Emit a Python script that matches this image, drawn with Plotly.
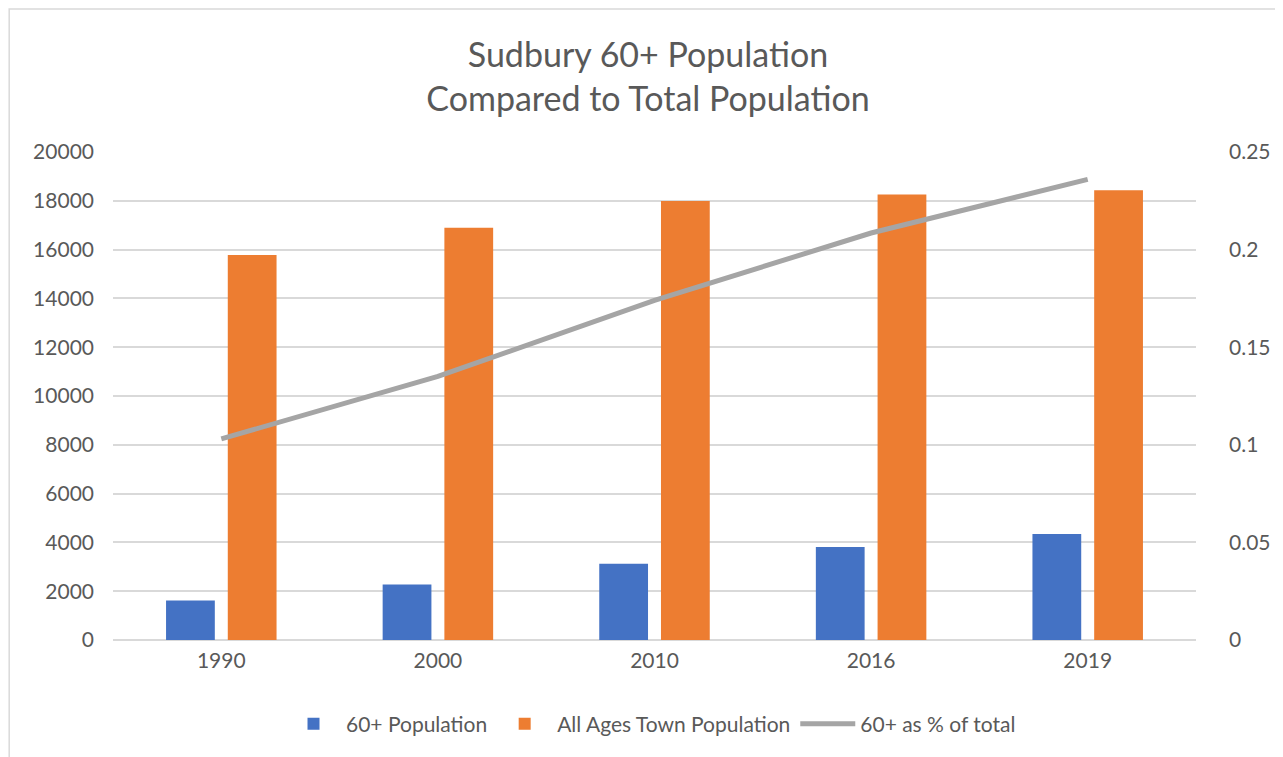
import plotly.graph_objects as go

years = ["1990", "2000", "2010", "2016", "2019"]
pop60 = [1620, 2270, 3130, 3810, 4340]
pop_all = [15780, 16900, 17990, 18260, 18430]
pct60 = [0.103, 0.135, 0.174, 0.2085, 0.236]

left_ticks = [0, 2000, 4000, 6000, 8000, 10000, 12000, 14000, 16000, 18000, 20000]
left_labels = [str(v) for v in left_ticks]
right_ticks = [0, 0.05, 0.1, 0.15, 0.2, 0.25]
right_labels = ["0", "0.05", "0.1", "0.15", "0.2", "0.25"]

FONT = "Lato, 'Open Sans', sans-serif"
GREY = "#595959"
FS = 21

# page body has an 8px default margin; compensate
W, H = 1275, 749
L, R, T, B = 105, 85, 144, 117
PW, PH = W - L - R, H - T - B

fig = go.Figure()
fig.add_trace(go.Bar(x=years, y=pop60, name="60+ Population",
                     marker=dict(color="#4472C4", line=dict(width=0))))
fig.add_trace(go.Bar(x=years, y=pop_all, name="All Ages Town Population",
                     marker=dict(color="#ED7D31", line=dict(width=0))))
fig.add_trace(go.Scatter(x=years, y=pct60, name="60+ as % of total", mode="lines",
                         line=dict(color="#A5A5A5", width=5), yaxis="y2"))

fig.update_layout(
    width=W, height=H,
    paper_bgcolor="white", plot_bgcolor="white",
    margin=dict(l=L, r=R, t=T, b=B),
    title=dict(text="Sudbury 60+ Population<br>Compared to Total Population",
               x=(648 - 8) / W, xanchor="center", y=1 - (67 - 8) / H, yanchor="middle",
               font=dict(family=FONT, size=34, color=GREY)),
    font=dict(family=FONT, size=FS, color=GREY),
    barmode="group", bargap=0.43, bargroupgap=0.21,
    xaxis=dict(showgrid=False, showline=False, ticks="", tickfont=dict(size=FS, color=GREY),
               ticklabelstandoff=6),
    yaxis=dict(range=[0, 20000], tickvals=left_ticks, ticktext=left_labels, showgrid=True,
               gridcolor="#D9D9D9", gridwidth=1.5, zeroline=True, zerolinecolor="#D9D9D9",
               zerolinewidth=1.5, showline=False, ticks="", tickfont=dict(size=FS, color=GREY),
               ticklabelstandoff=18),
    yaxis2=dict(range=[0, 0.25], tickvals=right_ticks, ticktext=right_labels, overlaying="y",
                side="right", showgrid=False, zeroline=False, showline=False, ticks="",
                tickfont=dict(size=FS, color=GREY), ticklabelstandoff=32),
    legend=dict(orientation="h", x=0.5 + (652 - 8 - L - PW / 2) / PW, xanchor="center",
                y=-(724 - 640) / PH, yanchor="middle",
                font=dict(size=FS, color=GREY), itemwidth=55, traceorder="normal"),
    showlegend=True,
    shapes=[dict(type="rect", xref="paper", yref="paper",
                 x0=(1 - L) / PW, x1=(1272 - L) / PW, y0=-(H + 20 - T - PH) / PH,
                 y1=1 + (T - 1) / PH,
                 line=dict(color="#D9D9D9", width=1.5), fillcolor="rgba(0,0,0,0)", layer="above")],
)

fig.write_html("out.html")
